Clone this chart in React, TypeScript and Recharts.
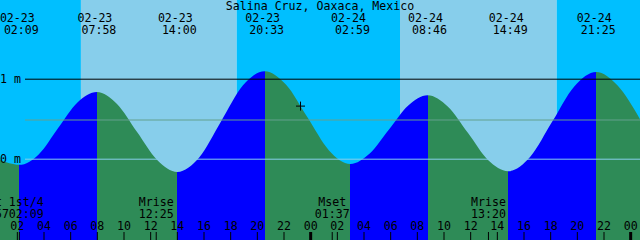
import React from "react";
import {
  Area,
  ComposedChart,
  ReferenceArea,
  ReferenceDot,
  XAxis,
  YAxis,
} from "recharts";

const W = 640;
const H = 240;
const FONT = "'DejaVu Sans Mono', monospace";
const FS = 11.6;

// hours counted from 02-23 00:00 (local)
const startHour = 0.7;
const endHour = 48.7;

const station = "Salina Cruz, Oaxaca, Mexico";

// high / low tide events
const tideHours = [2.15, 7.967, 14.0, 20.55, 26.983, 32.767, 38.817, 45.417];
const tideKinds = ["low", "high", "low", "high", "low", "high", "low", "high"];
const tideDates = ["02-23", "02-23", "02-23", "02-23", "02-24", "02-24", "02-24", "02-24"];
const tideClock = ["02:09", "07:58", "14:00", "20:33", "02:59", "08:46", "14:49", "21:25"];

// water level (m)
const curveHours = [
  0.7, 1.4, 2.15, 3.6, 5.06, 6.51, 7.967, 9.475, 10.98, 12.49, 14.0, 15.64,
  17.275, 18.91, 20.55, 22.16, 23.77, 25.375, 26.983, 28.43, 29.875, 31.32,
  32.767, 34.28, 35.79, 37.3, 38.817, 40.47, 42.12, 43.77, 45.417, 47.02, 48.7,
];
const curveLevels = [
  -0.01, -0.05, -0.07, 0.06, 0.39, 0.71, 0.84, 0.69, 0.34, -0.01, -0.16, 0.02,
  0.47, 0.92, 1.1, 0.93, 0.52, 0.11, -0.06, 0.07, 0.37, 0.67,
  0.8, 0.66, 0.33, -0.01, -0.15, 0.03, 0.47, 0.91, 1.09, 0.92, 0.5,
];

// sunrise, sunset, sunrise, sunset
const sunHours = [6.77, 18.45, 30.7, 42.45];

const hourTicks = [2, 4, 6, 8, 10, 12, 14, 16, 18, 20, 22, 24, 26, 28, 30, 32, 34, 36, 38, 40, 42, 44, 46, 48];
const moonHours = [2.15, 12.417, 25.617, 37.333];
const moonEvents = ["t 1st/4", "Mrise", "Mset", "Mrise"];
const moonClock = ["5702:09", "12:25", "01:37", "13:20"];

const levelLines = [0, 0.49, 1];
const levelLabels = ["0 m", "", "1 m"];
const levelColours = ["#87ceeb", "#63a08e", "#000000"];

const nowHour = 23.2;
const nowLevel = 0.67;

const NIGHT = "#00bfff";
const DAY = "#87ceeb";
const RISE = "#0000ff";
const FALL = "#2e8b57";

const data = curveHours.map((h, i) => ({ h, level: curveLevels[i] }));

const bandEdges = [startHour, ...sunHours, endHour];
const bands = bandEdges.slice(0, -1).map((from, i) => ({
  from,
  to: bandEdges[i + 1],
  night: i % 2 === 0,
}));

const span = endHour - startHour;
const fillStops: { offset: number; colour: string }[] = [];
let colour = tideKinds[0] === "low" ? FALL : RISE;
fillStops.push({ offset: 0, colour });
tideHours.forEach((h, i) => {
  const offset = (h - startHour) / span;
  fillStops.push({ offset, colour });
  colour = tideKinds[i] === "low" ? RISE : FALL;
  fillStops.push({ offset, colour });
});
fillStops.push({ offset: 1, colour });

const txt = { fontFamily: FONT, fontSize: FS, fill: "#000" };

function BottomTick(props: any) {
  const { x, payload } = props;
  const v = payload.value;
  const mi = moonHours.indexOf(v);
  if (mi >= 0) {
    return (
      <g>
        <line x1={x} x2={x} y1={H - 8} y2={H} stroke="#000" />
        <text x={x} y={206} textAnchor="middle" style={txt}>
          {moonEvents[mi]}
        </text>
        <text x={x} y={218} textAnchor="middle" style={txt}>
          {moonClock[mi]}
        </text>
      </g>
    );
  }
  const midnight = v % 24 === 0;
  return (
    <g>
      <line x1={x} x2={x} y1={H - 8} y2={H} stroke="#000" strokeWidth={midnight ? 3 : 1} />
      <text x={x} y={230} textAnchor="middle" style={txt}>
        {String(v % 24).padStart(2, "0")}
      </text>
    </g>
  );
}

function TopTick(props: any) {
  const { x, payload } = props;
  const i = tideHours.indexOf(payload.value);
  if (i < 0) return <g />;
  return (
    <g>
      <text x={x - 2} y={22} textAnchor="middle" style={txt}>
        {tideDates[i]}
      </text>
      <text x={x + 2} y={34} textAnchor="middle" style={txt}>
        {tideClock[i]}
      </text>
    </g>
  );
}

function LevelTick(props: any) {
  const { y, payload } = props;
  const i = levelLines.indexOf(payload.value);
  if (i < 0) return <g />;
  return (
    <g>
      <line x1={25} x2={W} y1={y} y2={y} stroke={levelColours[i]} />
      {levelLabels[i] && (
        <text x={0} y={y} dy="0.35em" style={txt}>
          {levelLabels[i]}
        </text>
      )}
    </g>
  );
}

function Cross(props: any) {
  const { cx, cy } = props;
  return (
    <g>
      <line x1={cx - 4} x2={cx + 5} y1={cy + 0.5} y2={cy + 0.5} stroke="#000" />
      <line x1={cx + 0.5} x2={cx + 0.5} y1={cy - 4} y2={cy + 5} stroke="#000" />
    </g>
  );
}

export default function App() {
  const bottomTicks = [...hourTicks, ...moonHours].sort((a, b) => a - b);
  return (
    <div style={{ position: "absolute", left: 0, top: 0, width: W, height: H }}>
      <ComposedChart
        width={W}
        height={H}
        data={data}
        margin={{ top: 0, right: 0, bottom: 0, left: 0 }}
      >
        <defs>
          <linearGradient id="tideFill" x1="0" y1="0" x2="1" y2="0">
            {fillStops.map((s, i) => (
              <stop key={i} offset={s.offset} stopColor={s.colour} />
            ))}
          </linearGradient>
        </defs>
        {bands.map((b, i) => (
          <ReferenceArea
            key={i}
            x1={b.from}
            x2={b.to}
            fill={b.night ? NIGHT : DAY}
            fillOpacity={1}
            stroke="none"
          />
        ))}
        <Area
          type="monotone"
          dataKey="level"
          baseValue="dataMin"
          stroke="none"
          fill="url(#tideFill)"
          fillOpacity={1}
          dot={false}
          activeDot={false}
          isAnimationActive={false}
        />
        <XAxis
          dataKey="h"
          type="number"
          domain={[startHour, endHour]}
          ticks={bottomTicks}
          interval={0}
          mirror
          axisLine={false}
          tickLine={false}
          tick={<BottomTick />}
        />
        <XAxis
          xAxisId="top"
          dataKey="h"
          type="number"
          orientation="top"
          domain={[startHour, endHour]}
          ticks={tideHours}
          interval={0}
          mirror
          axisLine={false}
          tickLine={false}
          tick={<TopTick />}
        />
        <YAxis
          type="number"
          domain={[-1.01, 1.99]}
          ticks={levelLines}
          interval={0}
          mirror
          axisLine={false}
          tickLine={false}
          tick={<LevelTick />}
        />
        <ReferenceDot x={nowHour} y={nowLevel} shape={<Cross />} />
      </ComposedChart>
      <div
        style={{
          position: "absolute",
          left: 0,
          top: 0,
          width: W,
          textAlign: "center",
          fontFamily: FONT,
          fontSize: FS,
          lineHeight: "12px",
          color: "#000",
          pointerEvents: "none",
        }}
      >
        {station}
      </div>
    </div>
  );
}
